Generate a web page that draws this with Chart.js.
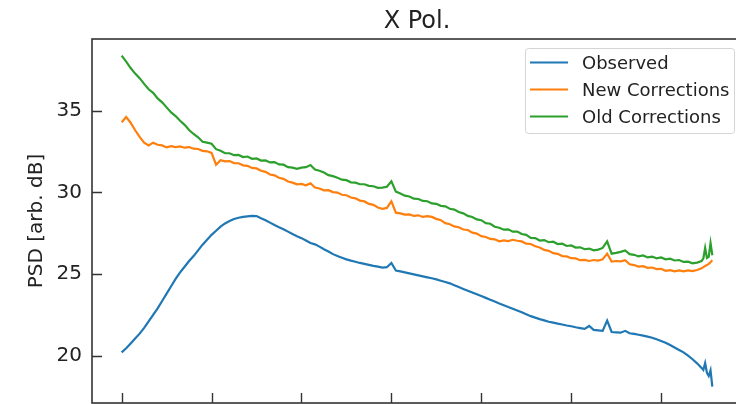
<!DOCTYPE html>
<html>
<head>
<meta charset="utf-8">
<title>X Pol.</title>
<script src="https://cdn.jsdelivr.net/npm/chart.js@4.4.1/dist/chart.umd.min.js"></script>
<style>
  html, body { margin: 0; padding: 0; overflow: hidden; background: #fff; }
  canvas { display: block; }
</style>
</head>
<body>
<canvas id="psdChart" width="834" height="404"></canvas>
<script>
// PSD of the X polarisation: observed vs. corrected spectra

const freqs = [
    0.00, 0.05, 0.10, 0.15, 0.20, 0.25, 0.30, 0.35, 0.40, 0.45,
    0.50, 0.55, 0.60, 0.65, 0.70, 0.75, 0.80, 0.85, 0.90, 0.95,
    1.00, 1.05, 1.10, 1.15, 1.20, 1.25, 1.30, 1.35, 1.40, 1.45,
    1.50, 1.55, 1.60, 1.65, 1.70, 1.75, 1.80, 1.85, 1.90, 1.95,
    2.00, 2.05, 2.10, 2.15, 2.20, 2.25, 2.30, 2.35, 2.40, 2.45,
    2.50, 2.55, 2.60, 2.65, 2.70, 2.75, 2.80, 2.85, 2.90, 2.95,
    3.00, 3.05, 3.10, 3.15, 3.20, 3.25, 3.30, 3.35, 3.40, 3.45,
    3.50, 3.55, 3.60, 3.65, 3.70, 3.75, 3.80, 3.85, 3.90, 3.95,
    4.00, 4.05, 4.10, 4.15, 4.20, 4.25, 4.30, 4.35, 4.40, 4.45,
    4.50, 4.55, 4.60, 4.65, 4.70, 4.75, 4.80, 4.85, 4.90, 4.95,
    5.00, 5.05, 5.10, 5.15, 5.20, 5.25, 5.30, 5.35, 5.40, 5.45,
    5.50, 5.55, 5.60, 5.65, 5.70, 5.75, 5.80, 5.85, 5.90, 5.95,
    6.00, 6.05, 6.10, 6.15, 6.20, 6.25, 6.30, 6.35, 6.40, 6.45,
    6.47, 6.49, 6.51, 6.53, 6.55, 6.57
];

const observed = [
    20.20, 20.45, 20.75, 21.05, 21.35, 21.70, 22.10, 22.50, 22.90, 23.35,
    23.80, 24.25, 24.70, 25.10, 25.45, 25.80, 26.10, 26.45, 26.80, 27.10,
    27.40, 27.65, 27.90, 28.10, 28.25, 28.37, 28.45, 28.50, 28.53, 28.56,
    28.55, 28.42, 28.30, 28.15, 28.00, 27.87, 27.75, 27.60, 27.45, 27.32,
    27.20, 27.05, 26.90, 26.82, 26.68, 26.52, 26.38, 26.22, 26.10, 26.00,
    25.90, 25.82, 25.75, 25.68, 25.62, 25.56, 25.50, 25.45, 25.40, 25.42,
    25.68, 25.22, 25.16, 25.10, 25.04, 24.98, 24.92, 24.86, 24.80, 24.74,
    24.67, 24.59, 24.51, 24.43, 24.32, 24.20, 24.09, 23.98, 23.87, 23.76,
    23.65, 23.54, 23.43, 23.32, 23.20, 23.09, 22.98, 22.88, 22.77, 22.66,
    22.54, 22.42, 22.33, 22.24, 22.16, 22.08, 22.02, 21.96, 21.91, 21.85,
    21.80, 21.74, 21.69, 21.64, 21.82, 21.58, 21.55, 21.52, 22.15, 21.45,
    21.43, 21.41, 21.52, 21.37, 21.33, 21.28, 21.23, 21.17, 21.10, 21.00,
    20.90, 20.79, 20.65, 20.50, 20.35, 20.20, 20.00, 19.78, 19.53, 19.25,
    19.12, 19.55, 18.95, 18.75, 19.10, 18.10
];

const newCorrections = [
    34.30, 34.62, 34.27, 33.81, 33.40, 33.05, 32.88, 33.05, 32.92, 32.88,
    32.76, 32.84, 32.78, 32.82, 32.74, 32.78, 32.68, 32.66, 32.55, 32.52,
    32.42, 31.70, 31.98, 31.90, 31.92, 31.80, 31.79, 31.66, 31.63, 31.50,
    31.47, 31.33, 31.26, 31.10, 31.05, 30.90, 30.83, 30.67, 30.60, 30.50,
    30.52, 30.44, 30.56, 30.30, 30.24, 30.13, 30.14, 30.02, 29.99, 29.86,
    29.83, 29.69, 29.64, 29.50, 29.45, 29.30, 29.24, 29.08, 29.00, 29.05,
    29.45, 28.76, 28.72, 28.64, 28.65, 28.56, 28.60, 28.50, 28.55, 28.50,
    28.38, 28.30, 28.12, 28.05, 27.92, 27.87, 27.73, 27.70, 27.54, 27.48,
    27.32, 27.27, 27.15, 27.13, 27.01, 27.06, 27.02, 27.10, 27.04, 27.00,
    26.86, 26.84, 26.70, 26.63, 26.48, 26.42, 26.28, 26.24, 26.10, 26.08,
    25.97, 25.96, 25.85, 25.87, 25.80, 25.86, 25.82, 25.90, 26.25, 25.76,
    25.80, 25.78, 25.85, 25.60, 25.55, 25.46, 25.48, 25.38, 25.40, 25.30,
    25.32, 25.20, 25.24, 25.17, 25.22, 25.16, 25.22, 25.18, 25.25, 25.35,
    25.42, 25.50, 25.55, 25.62, 25.72, 25.84
];

const oldCorrections = [
    38.38, 38.02, 37.62, 37.28, 37.00, 36.65, 36.32, 36.10, 35.76, 35.52,
    35.21, 34.90, 34.68, 34.39, 34.14, 33.82, 33.58, 33.38, 33.10, 33.05,
    32.98, 32.65, 32.55, 32.40, 32.40, 32.28, 32.30, 32.17, 32.20, 32.06,
    32.08, 31.95, 31.96, 31.84, 31.86, 31.72, 31.70, 31.55, 31.52, 31.45,
    31.52, 31.55, 31.68, 31.40, 31.33, 31.22, 31.06, 31.00, 30.90, 30.78,
    30.75, 30.62, 30.60, 30.50, 30.50, 30.40, 30.38, 30.28, 30.30, 30.35,
    30.68, 30.05, 29.94, 29.80, 29.75, 29.62, 29.60, 29.48, 29.46, 29.33,
    29.30, 29.18, 29.15, 29.00, 28.95, 28.80, 28.72, 28.56, 28.50, 28.35,
    28.30, 28.12, 28.08, 27.90, 27.84, 27.72, 27.74, 27.60, 27.60, 27.45,
    27.40, 27.22, 27.20, 27.05, 27.08, 26.95, 26.98, 26.84, 26.86, 26.72,
    26.75, 26.62, 26.64, 26.52, 26.56, 26.45, 26.50, 26.60, 27.00, 26.25,
    26.30, 26.36, 26.45, 26.22, 26.18, 26.08, 26.14, 26.02, 26.07, 25.96,
    26.02, 25.90, 25.94, 25.83, 25.86, 25.74, 25.76, 25.66, 25.70, 25.80,
    25.95, 26.60, 25.98, 26.05, 26.90, 26.15
];

const seriesLabels = ['Observed', 'New Corrections', 'Old Corrections'];
const seriesColors = ['#1f77b4', '#ff7f0e', '#2ca02c'];

const yTicks = [20, 25, 30, 35];
const xTicks = [0, 1, 2, 3, 4, 5, 6];
const titleText = 'X Pol.';

const textColor = '#222';
const fontFamily = "'DejaVu Sans', sans-serif";

function points(values) {
    return freqs.map((f, i) => ({ x: f, y: values[i] }));
}

// title centred over the axes (not the whole canvas), like matplotlib
const axesTitlePlugin = {
    id: 'axesTitle',
    afterDraw(chart) {
        const ctx = chart.ctx;
        const a = chart.chartArea;
        ctx.save();
        ctx.font = '24px ' + fontFamily;
        ctx.fillStyle = textColor;
        ctx.textAlign = 'center';
        ctx.textBaseline = 'alphabetic';
        ctx.fillText(titleText, (a.left + a.right) / 2, 28);
        ctx.restore();
    }
};

// axes frame with inward ticks
const framePlugin = {
    id: 'frame',
    afterDatasetsDraw(chart) {
        const ctx = chart.ctx;
        const a = chart.chartArea;
        ctx.save();
        ctx.strokeStyle = '#333';
        ctx.lineWidth = 1.6;
        ctx.strokeRect(a.left, a.top, a.right - a.left, a.bottom - a.top);
        ctx.lineWidth = 1.4;
        ctx.beginPath();
        yTicks.forEach(v => {
            const py = Math.round(chart.scales.y.getPixelForValue(v)) + 0.5;
            ctx.moveTo(a.left, py);
            ctx.lineTo(a.left + 10, py);
        });
        xTicks.forEach(v => {
            const px = Math.round(chart.scales.x.getPixelForValue(v)) + 0.5;
            ctx.moveTo(px, a.bottom);
            ctx.lineTo(px, a.bottom - 10);
        });
        ctx.stroke();
        ctx.restore();
    }
};

// legend box in the upper right of the axes
const legendPlugin = {
    id: 'boxLegend',
    afterDraw(chart) {
        const ctx = chart.ctx;
        const a = chart.chartArea;
        const w = 209, h = 85;
        const x0 = a.right - 8 - w, y0 = a.top + 9;
        ctx.save();
        ctx.beginPath();
        ctx.roundRect(x0 + 0.5, y0 + 0.5, w, h, 3);
        ctx.fillStyle = 'rgba(255,255,255,0.8)';
        ctx.fill();
        ctx.strokeStyle = '#d4d4d4';
        ctx.lineWidth = 1;
        ctx.stroke();
        ctx.font = '18px ' + fontFamily;
        ctx.textBaseline = 'alphabetic';
        chart.data.datasets.forEach((ds, i) => {
            const ry = y0 + 14.5 + i * 27;
            ctx.strokeStyle = ds.borderColor;
            ctx.lineWidth = 2;
            ctx.beginPath();
            ctx.moveTo(x0 + 5, ry);
            ctx.lineTo(x0 + 43, ry);
            ctx.stroke();
            ctx.fillStyle = textColor;
            ctx.fillText(ds.label, x0 + 57, ry + 6.5);
        });
        ctx.restore();
    }
};

Chart.defaults.font.family = fontFamily;
Chart.defaults.color = textColor;

new Chart(document.getElementById('psdChart'), {
    type: 'line',
    data: {
        datasets: [observed, newCorrections, oldCorrections].map((vals, i) => ({
            label: seriesLabels[i],
            data: points(vals),
            borderColor: seriesColors[i],
            backgroundColor: seriesColors[i],
            borderWidth: 2.2,
            pointRadius: 0,
            tension: 0,
            fill: false
        }))
    },
    options: {
        responsive: false,
        animation: false,
        layout: { padding: { left: 0, right: 92, top: 39, bottom: 1 } },
        plugins: {
            legend: { display: false },
            tooltip: { enabled: false },
            title: { display: false }
        },
        scales: {
            x: {
                type: 'linear',
                min: -0.33,
                max: 6.9,
                display: false
            },
            y: {
                min: 17.1,
                max: 39.4,
                afterBuildTicks: s => { s.ticks = yTicks.map(v => ({ value: v })); },
                afterFit: s => {
                    s.width = 92;
                    s.paddingTop = 0;
                    s.paddingBottom = 0;
                },
                ticks: { padding: 10, color: textColor, font: { size: 20 } },
                grid: { drawOnChartArea: false, drawTicks: false },
                border: { display: false },
                title: {
                    display: true,
                    text: 'PSD [arb. dB]',
                    color: textColor,
                    font: { size: 20 },
                    padding: { top: 25, bottom: 0 }
                }
            }
        }
    },
    plugins: [framePlugin, legendPlugin, axesTitlePlugin]
});
</script>
</body>
</html>
